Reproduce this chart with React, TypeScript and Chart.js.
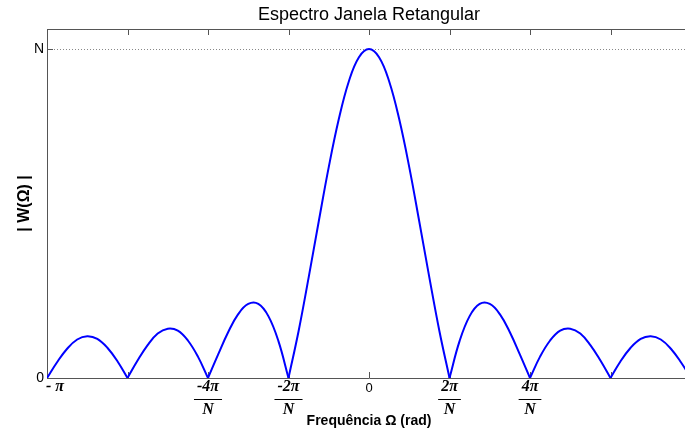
import React, { useEffect, useRef } from "react";
import { Chart, registerables } from "chart.js";

Chart.register(...registerables);

// Frequency samples, in units of π (rad)
const freqPi = [
  -1, -0.96875, -0.9375, -0.90625, -0.875, -0.84375, -0.8125, -0.78125,
  -0.75, -0.71875, -0.6875, -0.65625, -0.625, -0.59375, -0.5625, -0.53125,
  -0.5, -0.46875, -0.4375, -0.40625, -0.375, -0.34375, -0.3125, -0.28125,
  -0.25, -0.21875, -0.1875, -0.15625, -0.125, -0.09375, -0.0625, -0.03125,
  0,
  0.03125, 0.0625, 0.09375, 0.125, 0.15625, 0.1875, 0.21875, 0.25,
  0.28125, 0.3125, 0.34375, 0.375, 0.40625, 0.4375, 0.46875, 0.5,
  0.53125, 0.5625, 0.59375, 0.625, 0.65625, 0.6875, 0.71875, 0.75,
  0.78125, 0.8125, 0.84375, 0.875, 0.90625, 0.9375, 0.96875, 1,
];

// |W(Ω)|, as a fraction of N
const magnitude = [
  0, 0.048, 0.089, 0.117, 0.127, 0.119, 0.092, 0.051,
  0, 0.053, 0.1, 0.135, 0.15, 0.144, 0.114, 0.065,
  0, 0.071, 0.139, 0.194, 0.225, 0.225, 0.188, 0.112,
  0, 0.142, 0.305, 0.475, 0.641, 0.787, 0.902, 0.975,
  1,
  0.975, 0.902, 0.787, 0.641, 0.475, 0.305, 0.142, 0,
  0.112, 0.188, 0.225, 0.225, 0.194, 0.139, 0.071, 0,
  0.065, 0.114, 0.144, 0.15, 0.135, 0.1, 0.053, 0,
  0.051, 0.092, 0.119, 0.127, 0.117, 0.089, 0.048, 0,
];

const xTickValues = [-1, -0.75, -0.5, -0.25, 0, 0.25, 0.5, 0.75, 1];
const xTickLabels: (string | string[])[] = [
  "    - π",
  "",
  ["-4π", "N"],
  ["-2π", "N"],
  "0",
  ["2π", "N"],
  ["4π", "N"],
  "",
  "π",
];
const yTickValues = [0, 1];
const yTickLabels = ["0", "N"];

const chartTitle = "Espectro Janela Retangular";
const xTitle = "Frequência Ω (rad)";
const yTitle = "| W(Ω) |";

const sansFamily = "'Liberation Sans', Arial, Helvetica, sans-serif";
const serifFamily = "'Liberation Serif', 'Times New Roman', serif";
const mathFont = {
  family: serifFamily,
  size: 16,
  style: "italic" as const,
  weight: "bold" as const,
  lineHeight: "23.5px",
};
const plainFont = { family: sansFamily, size: 13, lineHeight: "26px" };
const TICK_PAD = -3;
const FRAC_LINE = 23.5;

const isMath = (lab: string | string[]) =>
  Array.isArray(lab) || (typeof lab === "string" && lab.includes("π"));

const framePlugin = {
  id: "frame",
  beforeDatasetsDraw(chart: any) {
    const { ctx, chartArea, scales } = chart;
    const { left, right, top, bottom } = chartArea;
    const x = scales.x;
    const y = scales.y;
    ctx.save();
    ctx.strokeStyle = "#555";
    ctx.lineWidth = 1;
    ctx.setLineDash([]);
    ctx.beginPath();
    ctx.moveTo(left, Math.round(top) + 0.5);
    ctx.lineTo(right, Math.round(top) + 0.5);
    ctx.moveTo(Math.round(right) + 0.5, top);
    ctx.lineTo(Math.round(right) + 0.5, bottom);
    for (const v of xTickValues) {
      const px = Math.round(x.getPixelForValue(v)) + 0.5;
      ctx.moveTo(px, top);
      ctx.lineTo(px, top + 6);
      ctx.moveTo(px, bottom);
      ctx.lineTo(px, bottom - 6);
    }
    for (const v of yTickValues) {
      const py = Math.round(y.getPixelForValue(v)) + 0.5;
      ctx.moveTo(left, py);
      ctx.lineTo(left + 6, py);
      ctx.moveTo(right, py);
      ctx.lineTo(right - 6, py);
    }
    ctx.stroke();

    // fraction bars under the numerators of the tick labels
    ctx.strokeStyle = "#000";
    ctx.font = `italic bold ${mathFont.size}px ${serifFamily}`;
    x.ticks.forEach((t: any, i: number) => {
      const lab = xTickLabels[i];
      if (!Array.isArray(lab)) return;
      const w = Math.max(...lab.map((s) => ctx.measureText(s).width));
      const px = x.getPixelForValue(t.value);
      const py = Math.round(x.top + TICK_PAD + FRAC_LINE) + 0.5;
      ctx.beginPath();
      ctx.moveTo(px - w / 2 - 3, py);
      ctx.lineTo(px + w / 2 + 3, py);
      ctx.stroke();
    });
    ctx.restore();
  },
};

export default function App() {
  const canvasRef = useRef<HTMLCanvasElement | null>(null);

  useEffect(() => {
    const canvas = canvasRef.current;
    if (!canvas) return;
    // split the curve into lobes at its zeros so each lobe is smoothed on its own
    const zeroIdx = magnitude
      .map((m, i) => (m === 0 ? i : -1))
      .filter((i) => i >= 0);
    const datasets = zeroIdx.slice(0, -1).map((start, k) => {
      const end = zeroIdx[k + 1];
      const pts = [];
      for (let i = start; i <= end; i++) pts.push({ x: freqPi[i], y: magnitude[i] });
      return {
        data: pts,
        borderColor: "#0000ff",
        borderWidth: 2,
        pointRadius: 0,
        fill: false,
        tension: 0.4,
      };
    });
    const chart = new Chart(canvas, {
      type: "line",
      data: { datasets },
      options: {
        responsive: false,
        animation: false,
        devicePixelRatio: 1,
        layout: { padding: { left: 0, right: 9, top: 0, bottom: 0 } },
        plugins: {
          legend: { display: false },
          tooltip: { enabled: false },
          title: {
            display: true,
            fullSize: false,
            text: chartTitle,
            color: "#000",
            font: { family: sansFamily, size: 18, weight: "normal" },
            padding: { top: 4, bottom: 3.4 },
          },
        },
        scales: {
          x: {
            type: "linear",
            min: -1,
            max: 1,
            afterBuildTicks: (s: any) => {
              s.ticks = xTickValues.map((v) => ({ value: v }));
            },
            afterFit: (s: any) => {
              s.height = 57;
            },
            grid: { display: false, drawTicks: false },
            border: { display: true, color: "#555", width: 1 },
            ticks: {
              autoSkip: false,
              maxRotation: 0,
              minRotation: 0,
              padding: TICK_PAD,
              color: "#000",
              callback: (_v: any, i: number) => xTickLabels[i],
              font: (c: any) =>
                isMath(xTickLabels[c.index] ?? "") ? mathFont : plainFont,
            },
            title: {
              display: true,
              text: xTitle,
              color: "#000",
              font: { family: sansFamily, size: 14, weight: "bold" },
              padding: { top: 0, bottom: 5 },
            },
          },
          y: {
            type: "linear",
            min: 0,
            max: 1.0608,
            afterBuildTicks: (s: any) => {
              s.ticks = yTickValues.map((v) => ({ value: v }));
            },
            afterFit: (s: any) => {
              s.width = 47;
            },
            grid: {
              drawTicks: false,
              lineWidth: 1,
              color: (c: any) =>
                c.tick && c.tick.value === 1 ? "#888" : "rgba(0,0,0,0)",
            },
            border: { display: true, color: "#555", width: 1, dash: [1, 2] },
            ticks: {
              padding: 3,
              color: "#000",
              font: { family: sansFamily, size: 14 },
              callback: (_v: any, i: number) => yTickLabels[i],
            },
            title: {
              display: true,
              text: yTitle,
              color: "#000",
              font: { family: sansFamily, size: 16, weight: "bold" },
              padding: { top: 15, bottom: 0 },
            },
          },
        },
      },
      plugins: [framePlugin],
    } as any);
    return () => chart.destroy();
  }, []);

  return (
    <div
      style={{
        position: "fixed",
        left: 0,
        top: 0,
        width: 685,
        height: 435,
        overflow: "hidden",
        background: "#fff",
      }}
    >
      <canvas
        ref={canvasRef}
        width={700}
        height={435}
        style={{ display: "block", width: 700, height: 435 }}
      />
    </div>
  );
}
